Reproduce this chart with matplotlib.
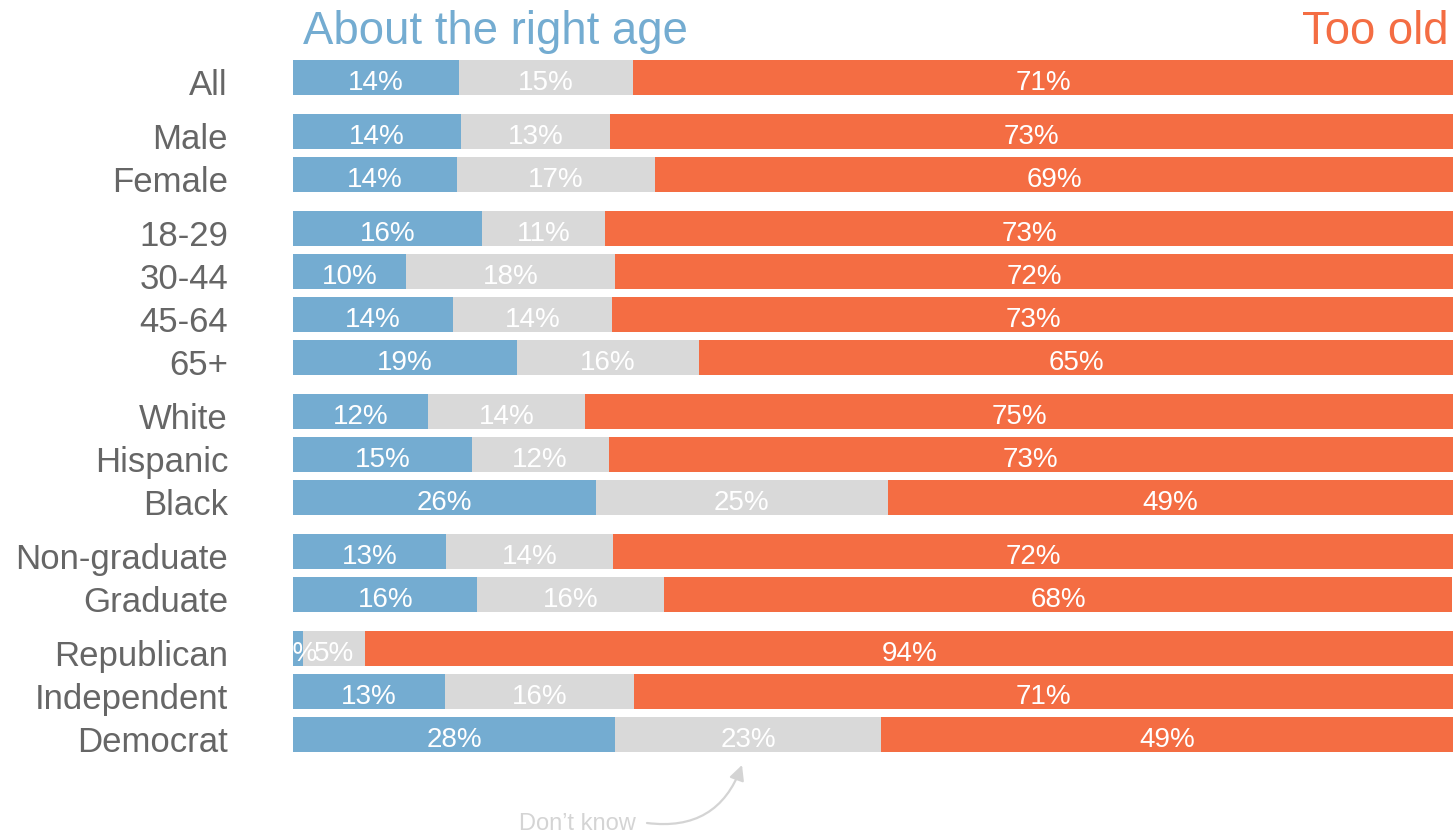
import matplotlib
matplotlib.use("Agg")
import matplotlib.pyplot as plt
from matplotlib.transforms import blended_transform_factory

plt.rcParams['font.family'] = ['Liberation Sans', 'DejaVu Sans']

categories = ["All", "Male", "Female", "18-29", "30-44", "45-64", "65+",
              "White", "Hispanic", "Black", "Non-graduate", "Graduate",
              "Republican", "Independent", "Democrat"]
groups = [0, 1, 1, 2, 2, 2, 2, 3, 3, 3, 4, 4, 5, 5, 5]
right_age = [14.3, 14.5, 14.1, 16.3, 9.7, 13.8, 19.3, 11.6, 15.4, 26.1, 13.2, 15.9, 0.9, 13.1, 27.8]
dont_know = [15.0, 12.8, 17.1, 10.6, 18.1, 13.7, 15.7, 13.6, 11.8, 25.2, 14.4, 16.1, 5.3, 16.3, 22.9]
too_old = [70.7, 72.8, 68.9, 73.1, 72.2, 72.6, 65.0, 74.8, 72.8, 48.7, 72.4, 67.9, 93.9, 70.6, 49.3]

BLUE = "#74acd1"
GRAY = "#d9d9d9"
RED = "#f46d43"
LABEL = "#666666"

W, H = 1453, 834
fig = plt.figure(figsize=(W / 100, H / 100), dpi=100)
ax = fig.add_axes([293 / W, 0, 1160 / W, 1])

ypos = [i + 0.256 * g for i, g in enumerate(groups)]
bh = 35 / 43

ax.barh(ypos, right_age, height=bh, color=BLUE, linewidth=0)
left2 = right_age
ax.barh(ypos, dont_know, left=left2, height=bh, color=GRAY, linewidth=0)
left3 = [a + b for a, b in zip(right_age, dont_know)]
ax.barh(ypos, too_old, left=left3, height=bh, color=RED, linewidth=0)

for y, a, b, c in zip(ypos, right_age, dont_know, too_old):
    for left, val in ((0, a), (a, b), (a + b, c)):
        ax.text(left + val / 2, y + 0.29, f"{val:.0f}%", ha="center", va="baseline",
                color="white", fontsize=20, clip_on=True)

trans = blended_transform_factory(ax.transAxes, ax.transData)
for y, cat in zip(ypos, categories):
    ax.text((228 - 293) / 1160, y + 0.405, cat, transform=trans, ha="right",
            va="baseline", color=LABEL, fontsize=25, clip_on=False)

ax.set_xlim(0, 100)
ax.set_ylim((H - 77.5) / 43, -77.5 / 43)
ax.axis("off")

fig.text(303 / W, 1 - 44 / H, "About the right age", color=BLUE, fontsize=32.8,
         ha="left", va="baseline")
fig.text(1449 / W, 1 - 44 / H, "Too old", color=RED, fontsize=32.8,
         ha="right", va="baseline")

# "Don't know" annotation
ax.text((636 - 293) / 11.6, (830 - 77.5) / 43, "Don\u2019t know", color="#d4d4d4",
        fontsize=17, ha="right", va="baseline", clip_on=False)
ax.annotate("", xy=((742 - 293) / 11.6, (765 - 77.5) / 43),
            xytext=((647 - 293) / 11.6, (823 - 77.5) / 43),
            arrowprops=dict(arrowstyle="-|>,head_length=0.9,head_width=0.45",
                            color="#d4d4d4", lw=1.6, shrinkA=0, shrinkB=0,
                            connectionstyle="arc3,rad=0.4"),
            annotation_clip=False)

fig.savefig("out.png", dpi=100)
